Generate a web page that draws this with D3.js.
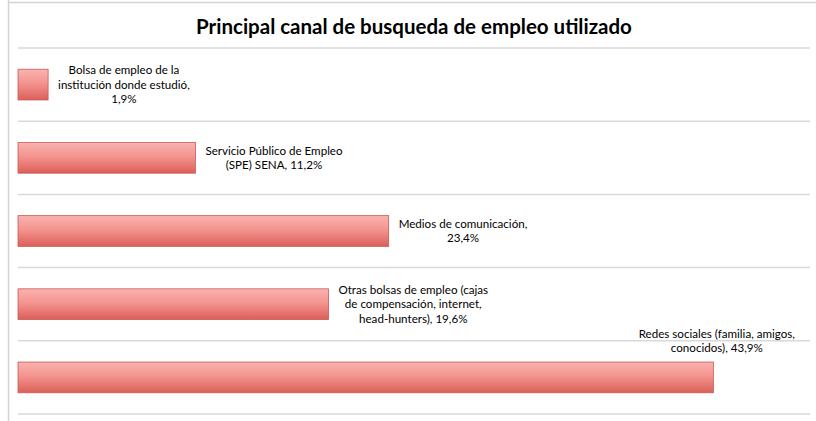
<!DOCTYPE html>
<html>
<head>
<meta charset="utf-8">
<script src="https://cdn.jsdelivr.net/npm/d3@7"></script>
<style>
  body { margin: 0; background: #fff; }
  text { font-family: Lato, "Open Sans", sans-serif; fill: #000; }
</style>
</head>
<body>
<div id="chart"></div>
<script>
// data
var categories = [
  "Bolsa de empleo de la institución donde estudió",
  "Servicio Público de Empleo (SPE) SENA",
  "Medios de comunicación",
  "Otras bolsas de empleo (cajas de compensación, internet, head-hunters)",
  "Redes sociales (familia, amigos, conocidos)"
]
var values = [1.9, 11.2, 23.4, 19.6, 43.9]
var labelLines = [
  ["Bolsa de empleo de la", "institución donde estudió,", "1,9%"],
  ["Servicio Público de Empleo", "(SPE) SENA, 11,2%"],
  ["Medios de comunicación,", "23,4%"],
  ["Otras bolsas de empleo (cajas", "de compensación, internet,", "head-hunters), 19,6%"],
  ["Redes sociales (familia, amigos,", "conocidos), 43,9%"]
]
var title = "Principal canal de busqueda de empleo utilizado"

var W = 816, H = 421
var margin = {top: 48, right: 6, bottom: 7, left: 18}
var width = W - margin.left - margin.right
var height = H - margin.top - margin.bottom

var svg = d3.select("#chart").append("svg")
  .attr("width", W)
  .attr("height", H)

// gradient for the bars
var defs = svg.append("defs")
var grad = defs.append("linearGradient")
  .attr("id", "barGrad")
  .attr("x1", 0).attr("y1", 0).attr("x2", 0).attr("y2", 1)
grad.append("stop").attr("offset", "0%").attr("stop-color", "#f9b3b0")
grad.append("stop").attr("offset", "45%").attr("stop-color", "#f4948f")
grad.append("stop").attr("offset", "100%").attr("stop-color", "#dc5f59")

// outer frame (left + top)
svg.append("line")
  .attr("x1", 8.5).attr("y1", 0).attr("x2", 8.5).attr("y2", H)
  .attr("stroke", "#d4d4d4").attr("stroke-width", 1.5)
svg.append("line")
  .attr("x1", 8).attr("y1", 2.5).attr("x2", W).attr("y2", 2.5)
  .attr("stroke", "#d4d4d4").attr("stroke-width", 1.5)

svg.append("text")
  .attr("x", 414)
  .attr("y", 34)
  .attr("text-anchor", "middle")
  .style("font-size", "20.5px")
  .style("font-weight", "bold")
  .text(title)

var main = svg.append("g")
  .attr("transform", "translate(" + margin.left + "," + margin.top + ")")

var x = d3.scaleLinear()
  .domain([0, 50])
  .range([0, width])

var y = d3.scaleBand()
  .domain(categories)
  .range([0, height])
  .paddingInner(0.58)
  .paddingOuter(0.29)

// horizontal gridlines at band boundaries
var bounds = d3.range(categories.length + 1).map(function(i) { return i * height / categories.length })
main.selectAll(".grid")
  .data(bounds)
  .enter().append("line")
  .attr("class", "grid")
  .attr("x1", 0).attr("x2", width)
  .attr("y1", function(d) { return d }).attr("y2", function(d) { return d })
  .attr("stroke", "#d9d9d9")
  .attr("stroke-width", 1.5)

var data = categories.map(function(c, i) {
  return {cat: c, val: values[i], lines: labelLines[i]}
})

// bars
main.selectAll(".bar")
  .data(data)
  .enter().append("rect")
  .attr("class", "bar")
  .attr("x", 0)
  .attr("y", function(d) { return y(d.cat) })
  .attr("width", function(d) { return x(d.val) })
  .attr("height", y.bandwidth())
  .attr("fill", "url(#barGrad)")
  .attr("stroke", "#c95a55")
  .attr("stroke-width", 0.8)

// data labels, wrapped like the original
var fontSize = 11.6, lineH = 14.5
data.forEach(function(d) {
  var t = main.append("text")
    .attr("text-anchor", "middle")
    .style("font-size", fontSize + "px")
  d.lines.forEach(function(l) {
    t.append("tspan").text(l)
  })
  var boxW = 0
  t.selectAll("tspan").each(function() {
    boxW = Math.max(boxW, this.getComputedTextLength())
  })
  var cx = x(d.val) + 10 + boxW / 2
  var cy = y(d.cat) + y.bandwidth() / 2
  var n = d.lines.length
  var firstY = cy - (n - 1) * lineH / 2 + 4
  if (cx + boxW / 2 > width - 4) {
    // no room to the right: put it above the bar
    cx = width - 15 - boxW / 2
    firstY = y(d.cat) - 10 - (n - 1) * lineH
  }
  t.selectAll("tspan")
    .attr("x", cx)
    .attr("y", function(_, i) { return firstY + i * lineH })
})
</script>
</body>
</html>
